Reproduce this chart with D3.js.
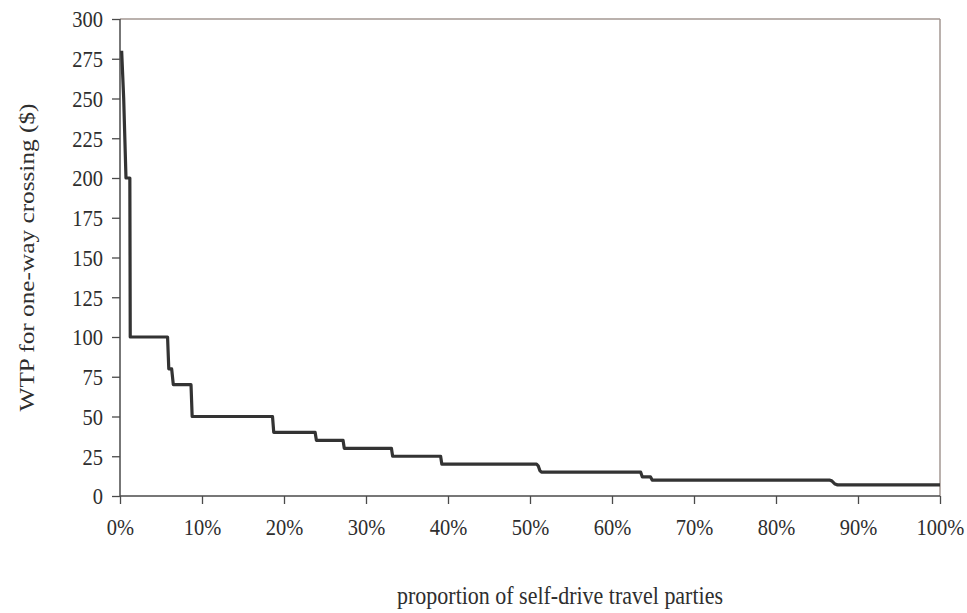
<!DOCTYPE html>
<html>
<head>
<meta charset="utf-8">
<script src="https://cdn.jsdelivr.net/npm/d3@7"></script>
<style>
  html, body { margin: 0; padding: 0; background: #fff; }
  svg { display: block; }
</style>
</head>
<body>
<svg id="chart" width="967" height="613"></svg>
<script>
// ---- data ----
const xShare = [0.2, 0.45, 0.73, 1.2, 1.25, 5.8, 5.95, 6.3, 6.5, 8.66, 8.8, 18.6, 18.75, 23.8, 23.95, 27.2, 27.35, 33.1, 33.25, 39.1, 39.25, 50.8, 51.0, 51.2, 51.4, 63.5, 63.7, 64.7, 64.9, 86.5, 86.8, 87.2, 87.5, 100];
const wtpValues = [280, 250, 200, 200, 100, 100, 80, 80, 70, 70, 50, 50, 40, 40, 35, 35, 30, 30, 25, 25, 20, 20, 19, 16, 15, 15, 12, 12, 10, 10, 9.5, 7.5, 7, 7];
const xTicks = [0, 10, 20, 30, 40, 50, 60, 70, 80, 90, 100];
const yTicks = [0, 25, 50, 75, 100, 125, 150, 175, 200, 225, 250, 275, 300];
const xTitle = "proportion of self-drive travel parties";
const yTitle = "WTP for one-way crossing ($)";

const points = xShare.map((x, i) => ({ x: x, y: wtpValues[i] }));

const svg = d3.select("#chart");
const margin = { left: 120, right: 27, top: 19, bottom: 117 };
const W = 967, H = 613;
const x = d3.scaleLinear().domain([0, 100]).range([margin.left, W - margin.right]);
const y = d3.scaleLinear().domain([0, 300]).range([H - margin.bottom, margin.top]);

const font = "'Liberation Serif', 'Times New Roman', serif";
const axisColor = "#4a4a4a";
const frameColor = "#a39792";
const textColor = "#2e2e2e";
const stretch = 1.15; // reference text is slightly taller than wide

// frame (top & right)
svg.append("line").attr("x1", x(0)).attr("x2", x(100)).attr("y1", y(300)).attr("y2", y(300))
  .attr("stroke", frameColor).attr("stroke-width", 1.5);
svg.append("line").attr("x1", x(100)).attr("x2", x(100)).attr("y1", y(300)).attr("y2", y(0))
  .attr("stroke", frameColor).attr("stroke-width", 1.5);

// axes
const yAxis = d3.axisLeft(y).tickValues(yTicks).tickSize(8).tickPadding(9).tickFormat(d3.format("d"));
const xAxis = d3.axisBottom(x).tickValues(xTicks).tickSize(8).tickPadding(13).tickFormat(d => d + "%");

const gy = svg.append("g").attr("transform", `translate(${x(0)},0)`).call(yAxis);
const gx = svg.append("g").attr("transform", `translate(0,${y(0)})`).call(xAxis);

[gx, gy].forEach(g => {
  g.select(".domain").attr("stroke", axisColor).attr("stroke-width", 1.5);
  g.selectAll(".tick line").attr("stroke", axisColor).attr("stroke-width", 1.3);
  g.selectAll(".tick text").attr("fill", textColor).style("font-family", font).style("font-size", "20.5px");
});
gy.select(".domain").attr("d", `M0,${y(300)}V${y(0)}`);
gx.select(".domain").attr("d", `M${x(0)},0H${x(100)}`);

// vertical stretch of tick labels
gy.selectAll(".tick text").attr("y", 0).attr("dy", "0.33em").attr("transform", `scale(1,${stretch})`);
gx.selectAll(".tick text").attr("y", 22 / stretch).attr("dy", "0.71em").attr("transform", `scale(1,${stretch})`);

// line
const line = d3.line().x(d => x(d.x)).y(d => y(d.y));
svg.append("path").datum(points)
  .attr("d", line)
  .attr("fill", "none")
  .attr("stroke", "#333333")
  .attr("stroke-width", 3.2)
  .attr("stroke-linejoin", "round");

// titles
svg.append("text")
  .attr("transform", `translate(560,604) scale(1,${stretch})`)
  .attr("text-anchor", "middle")
  .attr("fill", textColor)
  .style("font-family", font).style("font-size", "22px")
  .text(xTitle);

svg.append("text")
  .attr("transform", `translate(34,${(y(0) + y(300)) / 2}) rotate(-90) scale(${stretch},1)`)
  .attr("text-anchor", "middle")
  .attr("fill", textColor)
  .style("font-family", font).style("font-size", "22px")
  .text(yTitle);
</script>
</body>
</html>
